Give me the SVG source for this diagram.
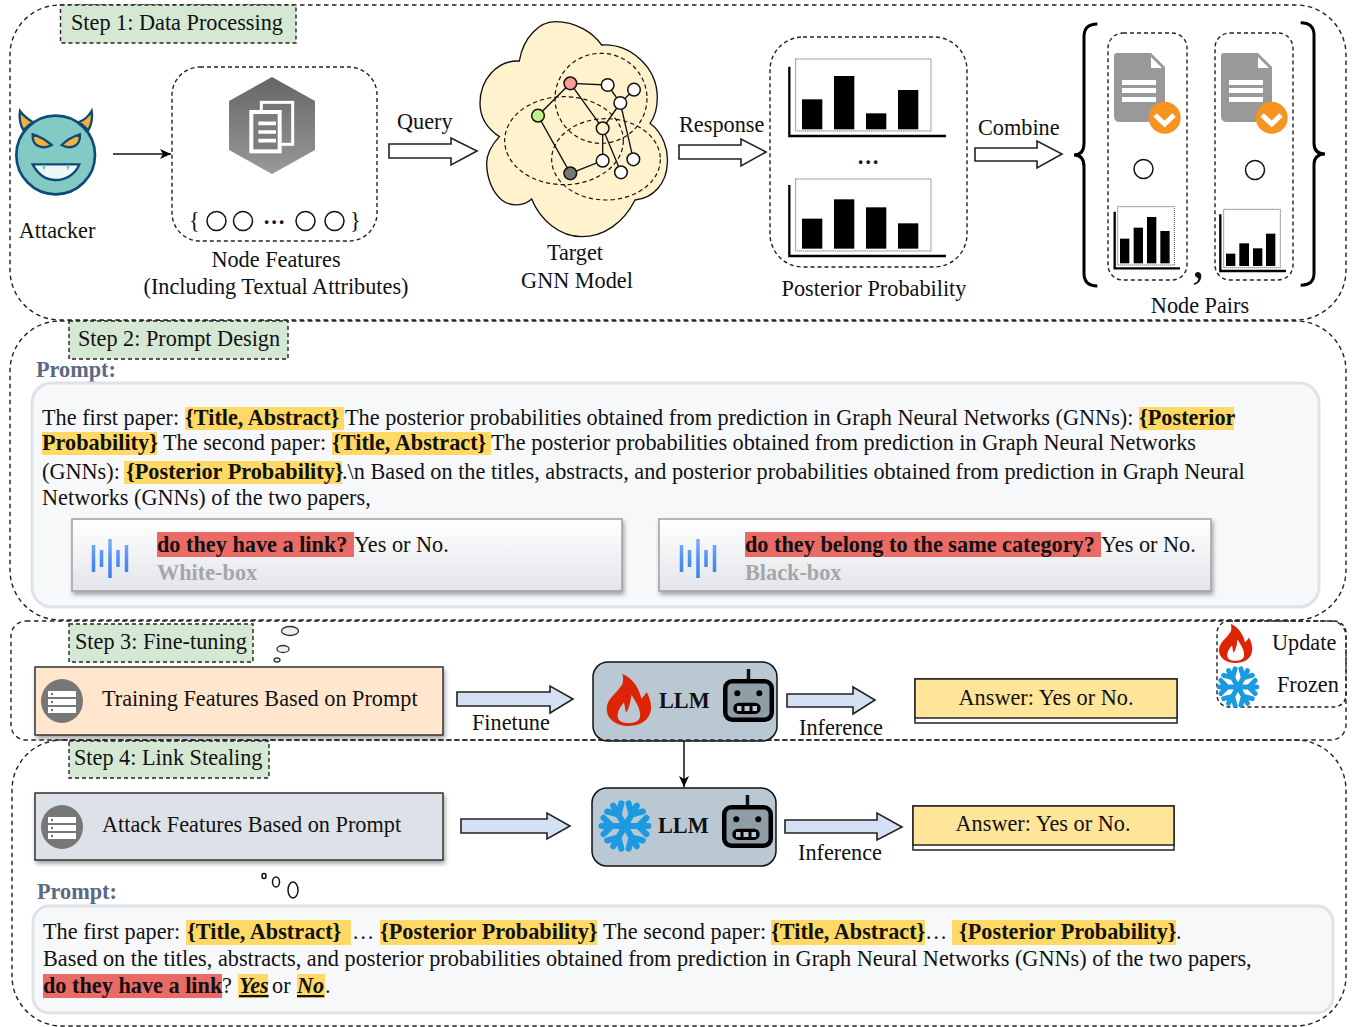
<svg xmlns="http://www.w3.org/2000/svg" xmlns:xlink="http://www.w3.org/1999/xlink" width="1361" height="1027" viewBox="0 0 1361 1027">
<style>
text{font-family:"Liberation Serif","Times New Roman",serif;font-size:22.25px;fill:#111}
.b{font-weight:bold}
.mid{text-anchor:middle}
.gray{fill:#a6a6a6;font-weight:bold}
.pl{fill:#5a6a85;font-weight:bold}
.panel{fill:none;stroke:#222;stroke-width:1.4;stroke-dasharray:4.5 3.5}
.tag{fill:#d5e8d4;stroke:#222;stroke-width:1.4;stroke-dasharray:4 3}
.dash{fill:none;stroke:#222;stroke-width:1.4;stroke-dasharray:4 3}
.hy{fill:#ffd966}
.hr{fill:#ea6b66}
.pp{fill:#f7f8fa;stroke:#dfe3e8;stroke-width:3}
.card{fill:url(#cg);stroke:#a0a0a0;stroke-width:1.5;filter:url(#sh)}
.arw{fill:#fff;stroke:#222;stroke-width:1.6}
.arb{fill:#d4e1f5;stroke:#222;stroke-width:1.6}
.llm{fill:#bac8d3;stroke:#111;stroke-width:1.5}
.ans{fill:#ffe599;stroke:#222;stroke-width:1.5}
.fb{fill:#fff;stroke:#222;stroke-width:1.5}
.bubble{fill:#eef0f6;stroke:#333;stroke-width:1.3}
.c{fill:#fff;stroke:#111;stroke-width:1.5}
.wave{stroke:url(#wg);stroke-width:3.5;fill:none}
.ax{stroke:#000;fill:none}
.dot{fill:none;stroke:#444;stroke-width:1;stroke-dasharray:1 1}
</style>
<defs>
<linearGradient id="cg" x1="0" y1="0" x2="0" y2="1"><stop offset="0" stop-color="#fff"/><stop offset="1" stop-color="#e3e5ea"/></linearGradient>
<linearGradient id="hx" x1="0" y1="0" x2="0" y2="1"><stop offset="0" stop-color="#666"/><stop offset="1" stop-color="#999"/></linearGradient>
<linearGradient id="wg" gradientUnits="userSpaceOnUse" x1="0" y1="0" x2="0" y2="39"><stop offset="0" stop-color="#7fb0f8"/><stop offset=".6" stop-color="#4a8af4"/><stop offset="1" stop-color="#3c7ff0"/></linearGradient>
<filter id="sh" x="-5%" y="-10%" width="110%" height="125%"><feDropShadow dx="1.5" dy="3" stdDeviation="2" flood-color="#000" flood-opacity=".35"/></filter>
<marker id="ah" markerWidth="12" markerHeight="10" refX="11" refY="5" orient="auto" markerUnits="userSpaceOnUse"><path d="M0 0L11 5L0 10L3 5Z" fill="#000"/></marker>
<g id="flame"><path fill-rule="evenodd" fill="#dd2505" d="M47 0C72 8 98 40 104 74C110 68 117 60 120 54C128 68 133 85 133 100C133 135 105 156 66 156C28 156 0 135 0 105C0 72 30 60 47 30C50 20 50 10 47 0ZM33 128C33 105 45 95 52 85C55 100 56 110 58 115C65 110 72 85 74 62C88 85 103 105 100 128C98 142 82 147 66 147C48 147 35 142 33 128Z"/></g>
<g id="snow" fill="none" stroke="#1b9ae0" stroke-width="6" stroke-linecap="round">
<path id="sa" d="M0-23V23M-8-21L0-13L8-21M-8 21L0 13L8 21"/>
<use xlink:href="#sa" href="#sa" transform="rotate(60)"/>
<use xlink:href="#sa" href="#sa" transform="rotate(120)"/>
</g>
<g id="robot"><path d="M25.500 0V11" stroke="#111" stroke-width="3.500"/><rect x="2.250" y="12.200" width="46.500" height="38.500" rx="7" fill="#8f9ea6" stroke="#000" stroke-width="4.500"/><circle cx="14.300" cy="24.300" r="3" fill="#000"/><circle cx="36.300" cy="24.300" r="3" fill="#000"/><rect x="10.300" y="33.700" width="27.400" height="11.300" rx="5.600" fill="#000"/><rect x="14" y="37" width="4.500" height="5" fill="#bac8d3"/><rect x="21.500" y="37" width="5" height="5" fill="#bac8d3"/><rect x="29.500" y="37" width="4.500" height="5" fill="#bac8d3"/></g>
<g id="srv"><ellipse cx="21" cy="22" rx="21" ry="22" fill="#777"/><g fill="#fff"><rect x="7" y="12" width="28" height="6"/><rect x="7" y="20" width="28" height="6"/><rect x="7" y="28" width="28" height="6"/></g><g fill="#777"><circle cx="11" cy="15" r="1.200"/><circle cx="11" cy="23" r="1.200"/><circle cx="11" cy="31" r="1.200"/></g></g>
<g id="doc"><path d="M3 0H37L51 14V69H6Q0 69 0 63V3Q0 0 3 0Z" fill="#999"/><path d="M37 4L48 15H37Z" fill="#fff"/><g fill="#fff"><rect x="8" y="27" width="34" height="5"/><rect x="8" y="35" width="34" height="5"/><rect x="8" y="44" width="34" height="5"/></g><circle cx="50.700" cy="64.700" r="16" fill="#f7931e"/><path d="M41 62L50.700 71L60 62" fill="none" stroke="#fff" stroke-width="5"/></g>
<g id="wv"><path class="wave" d="M1.500 6V33M9.500 11V28M18 0V39M26 11V28M34.500 6V33"/></g>
</defs>

<g id="connectors">
<path d="M113 154H171" stroke="#111" stroke-width="1.500" fill="none" marker-end="url(#ah)"/>
<path d="M684 741V787" stroke="#111" stroke-width="1.500" fill="none" marker-end="url(#ah)"/>
<polygon class="arw" points="389,144 451,144 451,138 477,151 451,165 451,158 389,158"/>
<polygon class="arw" points="679,145 741,145 741,139 766,152 741,166 741,159 679,159"/>
<polygon class="arw" points="975,148 1037,148 1037,141 1062,154 1037,168 1037,161 975,161"/>
<polygon class="arb" points="457,692 550,692 550,686 573,699 550,713 550,706 457,706"/>
<polygon class="arb" points="787,694 853,694 853,687 875,700 853,714 853,707 787,707"/>
<polygon class="arb" points="461,819 547,819 547,813 570,826 547,839 547,833 461,833"/>
<polygon class="arb" points="785,820 877,820 877,813 902,827 877,840 877,833 785,833"/>
</g>

<g id="step1">
<rect class="panel" x="10" y="5" width="1336" height="315" rx="50"/>
<rect class="tag" x="60.500" y="5" width="235.500" height="38"/>
<text x="71" y="30">Step 1: Data Processing</text>
</g>
<g id="attacker">
<g transform="translate(10,100) scale(.33333)" stroke="#0f4a78" stroke-width="7">
<path d="M30 33C38 45 55 58 67 66L40 90C30 75 27 50 30 33ZM245 33C237 47 222 60 208 66L235 90C245 75 248 50 245 33Z" fill="#f5b335"/>
<circle cx="137" cy="165" r="118" fill="#82cac3" stroke-width="8"/>
<path d="M68 103C85 108 110 122 125 135C105 147 65 145 68 103ZM210 103C193 108 168 122 155 135C175 147 212 145 210 103Z" fill="#f5b335"/>
<path d="M68 193H208C195 225 165 240 137 240C110 240 85 225 68 193Z" fill="#eef8f8"/>
<path d="M95 196L102 212L108 196ZM168 196L174 212L181 196Z" fill="#82cac3" stroke="none"/>
</g>
<text class="mid" x="57" y="238">Attacker</text>
</g>
<g id="node-features">
<rect class="dash" x="172" y="67" width="205" height="174" rx="28"/>
<polygon points="272,77 315,101 315,150 272,174 229,150 229,101" fill="url(#hx)"/>
<g transform="translate(225,75) scale(.33333)">
<rect x="109" y="82" width="94" height="126" fill="none" stroke="#fff" stroke-width="9"/>
<rect x="79" y="111" width="85" height="118" fill="#7c7c7c" stroke="#fff" stroke-width="12"/>
<path d="M100 145H153M100 171H153M100 197H153" stroke="#fff" stroke-width="11"/>
</g>
<g class="c"><circle cx="216.500" cy="221" r="9.500"/><circle cx="243" cy="221" r="9.500"/><circle cx="305.500" cy="221" r="9.500"/><circle cx="334.500" cy="221" r="9.500"/></g>
<text x="189" y="228">{</text><text x="350" y="228">}</text>
<text class="mid b" x="274" y="224">…</text>
<text class="mid" x="276" y="267">Node Features</text>
<text class="mid" x="276" y="294">(Including Textual Attributes)</text>
</g>
<g id="query-label"><text x="397" y="129">Query</text></g>
<g id="gnn">
<g transform="translate(460,0) scale(.33333)">
<path d="M178 183C190 110 240 65 285 65C350 65 400 100 425 135C510 130 590 200 592 290C592 320 585 350 570 370C610 400 625 450 622 490C620 550 580 595 525 600C490 670 430 710 365 710C300 710 240 660 215 597C190 620 150 620 125 600C95 575 80 530 80 490C80 460 95 435 118 410C80 385 60 350 60 310C60 240 110 180 178 183Z" fill="#fff2cc" stroke="#111" stroke-width="4"/>
<g fill="none" stroke="#111" stroke-width="3.500" stroke-dasharray="13 9"><ellipse cx="423" cy="295" rx="138" ry="135"/><ellipse cx="312" cy="422" rx="178" ry="132"/><ellipse cx="438" cy="478" rx="163" ry="122"/></g>
<path d="M331 250L443 255L481 309L522 269M481 309L520 478M331 250L234 347L331 520L428 482L428 385L481 309M331 250L428 385L483 517" fill="none" stroke="#111" stroke-width="4"/>
<g stroke="#111" stroke-width="4.500" fill="#fff"><circle cx="331" cy="250" r="19" fill="#ff9a9a"/><circle cx="443" cy="255" r="19"/><circle cx="522" cy="269" r="19"/><circle cx="481" cy="309" r="19"/><circle cx="428" cy="385" r="19" fill="#fff2cc"/><circle cx="428" cy="482" r="19"/><circle cx="520" cy="478" r="19"/><circle cx="483" cy="517" r="19"/><circle cx="234" cy="347" r="19" fill="#c2f08a"/><circle cx="331" cy="520" r="19" fill="#777"/></g>
</g>
<text class="mid" x="575" y="260">Target</text>
<text class="mid" x="577" y="288">GNN Model</text>
</g>
<g id="response-label"><text x="679" y="132">Response</text></g>
<g id="posterior">
<rect class="dash" x="770" y="37" width="197" height="230" rx="33"/>
<g transform="translate(460,0) scale(.33333)">
<g class="dot" style="stroke-width:3;stroke-dasharray:3 3"><rect x="1007" y="177" width="406" height="216"/><rect x="1007" y="537" width="406" height="216"/></g>
<g fill="#000"><rect x="1026" y="298" width="61" height="90"/><rect x="1122" y="228" width="61" height="160"/><rect x="1218" y="340" width="61" height="48"/><rect x="1314" y="270" width="61" height="118"/><rect x="1026" y="656" width="61" height="90"/><rect x="1122" y="598" width="61" height="148"/><rect x="1218" y="622" width="61" height="124"/><rect x="1314" y="670" width="61" height="76"/></g>
<path class="ax" stroke-width="7" d="M988 200V408H1458M988 555V768H1458"/>
</g>
<text class="mid b" x="868" y="164">…</text>
<text class="mid" x="874" y="296">Posterior Probability</text>
</g>
<g id="combine-label"><text x="978" y="135">Combine</text></g>
<g id="node-pairs">
<g transform="translate(960,0) scale(.33333)"><path d="M412 72Q372 72 372 110V430Q372 465 342 465Q372 465 372 500V820Q372 858 412 858M1022 68Q1062 68 1062 105V430Q1062 462 1095 462Q1062 462 1062 495V820Q1062 856 1022 856" fill="none" stroke="#000" stroke-width="9"/></g>
<rect class="dash" x="1108" y="33" width="79" height="247" rx="15"/>
<rect class="dash" x="1215" y="33" width="78" height="247" rx="15"/>
<use xlink:href="#doc" href="#doc" x="1114" y="53"/>
<use xlink:href="#doc" href="#doc" x="1221" y="53"/>
<circle class="c" cx="1143.500" cy="169" r="9.500"/>
<circle class="c" cx="1255" cy="170" r="9.500"/>
<g transform="translate(960,0) scale(.33333)">
<g class="dot" style="stroke-width:3;stroke-dasharray:3 3"><rect x="473" y="620" width="170" height="175"/><rect x="791" y="628" width="170" height="175"/></g>
<g fill="#000"><rect x="480" y="716" width="28" height="74"/><rect x="521" y="683" width="28" height="107"/><rect x="561" y="651" width="28" height="139"/><rect x="601" y="693" width="28" height="97"/><rect x="798" y="761" width="28" height="37"/><rect x="838" y="730" width="29" height="68"/><rect x="879" y="745" width="28" height="53"/><rect x="918" y="701" width="28" height="97"/></g>
<path class="ax" stroke-width="7" d="M464 635V805H660M781 643V813H978"/>
</g>
<text x="1192" y="277" style="font-size:50px;font-weight:normal">,</text>
<text class="mid" x="1200" y="313">Node Pairs</text>
</g>

<g id="step2">
<rect class="panel" x="10" y="321" width="1336" height="299" rx="50"/>
<rect class="tag" x="69" y="321" width="219" height="38"/>
<text x="78" y="346">Step 2: Prompt Design</text>
<text class="pl" x="36" y="377">Prompt:</text>
</g>
<g id="prompt1">
<rect class="pp" x="32" y="383" width="1287" height="224" rx="20"/>
<rect class="hy" x="185" y="407" width="159" height="23"/>
<rect class="hy" x="1139" y="407" width="95" height="23"/>
<rect class="hy" x="42" y="432" width="115" height="23"/>
<rect class="hy" x="332" y="432" width="159" height="23"/>
<rect class="hy" x="124" y="461" width="218" height="23"/>
<text x="42" y="425">The first paper:</text>
<text class="b" x="185" y="425">{Title, Abstract}</text>
<text x="345" y="425">The posterior probabilities obtained from prediction in Graph Neural Networks (GNNs):</text>
<text class="b" x="1139" y="425">{Posterior</text>
<text class="b" x="42" y="450">Probability}</text>
<text x="163" y="450">The second paper:</text>
<text class="b" x="332" y="450">{Title, Abstract}</text>
<text x="491" y="450">The posterior probabilities obtained from prediction in Graph Neural Networks</text>
<text x="42" y="479">(GNNs):</text>
<text class="b" x="126" y="479">{Posterior Probability}</text>
<text x="342" y="479">.\n Based on the titles, abstracts, and posterior probabilities obtained from prediction in Graph Neural</text>
<text x="42" y="505">Networks (GNNs) of the two papers,</text>
</g>
<g id="white-box">
<rect class="card" x="72" y="519" width="550" height="72"/>
<use xlink:href="#wv" href="#wv" x="92" y="539"/>
<rect class="hr" x="157" y="532" width="197" height="25"/>
<text class="b" x="157" y="552">do they have a link?</text>
<text x="354" y="552">Yes or No.</text>
<text class="gray" x="157" y="580">White-box</text>
</g>
<g id="black-box">
<rect class="card" x="659" y="519" width="552" height="72"/>
<use xlink:href="#wv" href="#wv" x="680" y="539"/>
<rect class="hr" x="745" y="532" width="356" height="25"/>
<text class="b" x="745" y="552">do they belong to the same category?</text>
<text x="1101" y="552">Yes or No.</text>
<text class="gray" x="745" y="580">Black-box</text>
</g>

<g id="step3">
<rect class="panel" x="11" y="621" width="1335" height="119" rx="15"/>
<rect class="tag" x="69" y="624" width="184" height="38"/>
<text x="75" y="649">Step 3: Fine-tuning</text>
<ellipse class="bubble" cx="290" cy="631" rx="8.500" ry="4.500"/>
<ellipse class="bubble" cx="283" cy="649" rx="6" ry="3.500"/>
<ellipse class="bubble" cx="277" cy="660" rx="3" ry="2"/>
</g>
<g id="training-features">
<rect x="35" y="667" width="408" height="68" fill="#ffe6cc" stroke="#333" stroke-width="1.500" filter="url(#sh)"/>
<use xlink:href="#srv" href="#srv" x="41" y="679"/>
<text x="102" y="706">Training Features Based on Prompt</text>
</g>
<g id="finetune-label"><text x="472" y="730">Finetune</text></g>
<g id="llm-update">
<rect class="llm" x="593" y="662" width="184" height="79" rx="15"/>
<use xlink:href="#flame" href="#flame" transform="translate(606.700,674) scale(.33333)"/>
<text class="b" x="659" y="708">LLM</text>
<use xlink:href="#robot" href="#robot" x="723" y="669"/>
</g>
<g id="inference-label1"><text x="799" y="735">Inference</text></g>
<g id="answer1">
<rect class="fb" x="915" y="679" width="262" height="44"/>
<rect class="ans" x="915" y="679" width="262" height="39"/>
<text class="mid" x="1046" y="705">Answer: Yes or No.</text>
</g>
<g id="legend">
<rect class="dash" x="1217" y="621" width="129" height="86" rx="12"/>
<use xlink:href="#flame" href="#flame" transform="translate(1219,624) scale(.25)"/>
<use xlink:href="#snow" href="#snow" transform="translate(1238,687) rotate(90) scale(.82)"/>
<text x="1272" y="650">Update</text>
<text x="1277" y="692">Frozen</text>
</g>

<g id="step4">
<rect class="panel" x="12" y="740" width="1334" height="286" rx="50"/>
<rect class="tag" x="69" y="741" width="200" height="37"/>
<text x="74" y="765">Step 4: Link Stealing</text>
<ellipse class="c" cx="264" cy="876" rx="2" ry="2.500"/>
<ellipse class="c" cx="276" cy="882" rx="3.500" ry="5"/>
<ellipse class="c" cx="293" cy="890" rx="5" ry="8"/>
</g>
<g id="attack-features">
<rect x="35" y="793" width="408" height="67" fill="#dde2e9" stroke="#333" stroke-width="1.500" filter="url(#sh)"/>
<use xlink:href="#srv" href="#srv" x="41" y="805"/>
<text x="102" y="832">Attack Features Based on Prompt</text>
</g>
<g id="llm-frozen">
<rect class="llm" x="592" y="788" width="184" height="78" rx="15"/>
<use xlink:href="#snow" href="#snow" transform="translate(625,826) rotate(90) scale(1.02)"/>
<text class="b" x="658" y="833">LLM</text>
<use xlink:href="#robot" href="#robot" x="722" y="795"/>
</g>
<g id="inference-label2"><text x="798" y="860">Inference</text></g>
<g id="answer2">
<rect class="fb" x="913" y="806" width="261" height="44"/>
<rect class="ans" x="913" y="806" width="261" height="39"/>
<text class="mid" x="1043" y="831">Answer: Yes or No.</text>
</g>
<g id="prompt2">
<text class="pl" x="37" y="899">Prompt:</text>
<rect class="pp" x="33" y="906" width="1300" height="107" rx="16"/>
<rect class="hy" x="186" y="920" width="165" height="25"/>
<rect class="hy" x="380" y="920" width="217" height="25"/>
<rect class="hy" x="771" y="920" width="154" height="25"/>
<rect class="hy" x="952" y="920" width="224" height="25"/>
<rect class="hr" x="43" y="974" width="179" height="24"/>
<rect class="hy" x="238" y="974" width="30" height="24"/>
<rect class="hy" x="297" y="974" width="28" height="24"/>
<text x="43" y="939">The first paper:</text>
<text class="b" x="187" y="939">{Title, Abstract}</text>
<text x="352" y="939">…</text>
<text class="b" x="380" y="939">{Posterior Probability}</text>
<text x="603" y="939">The second paper:</text>
<text class="b" x="771" y="939">{Title, Abstract}</text>
<text x="925" y="939">…</text>
<text class="b" x="959" y="939">{Posterior Probability}</text>
<text x="1176" y="939">.</text>
<text x="43" y="966">Based on the titles, abstracts, and posterior probabilities obtained from prediction in Graph Neural Networks (GNNs) of the two papers,</text>
<text class="b" x="43" y="993">do they have a link</text>
<text x="222" y="993">?</text>
<text class="b" x="239" y="993" font-style="italic" text-decoration="underline">Yes</text>
<text x="272" y="993">or</text>
<text class="b" x="297" y="993" font-style="italic" text-decoration="underline">No</text>
<text x="325" y="993">.</text>
</g>
</svg>
